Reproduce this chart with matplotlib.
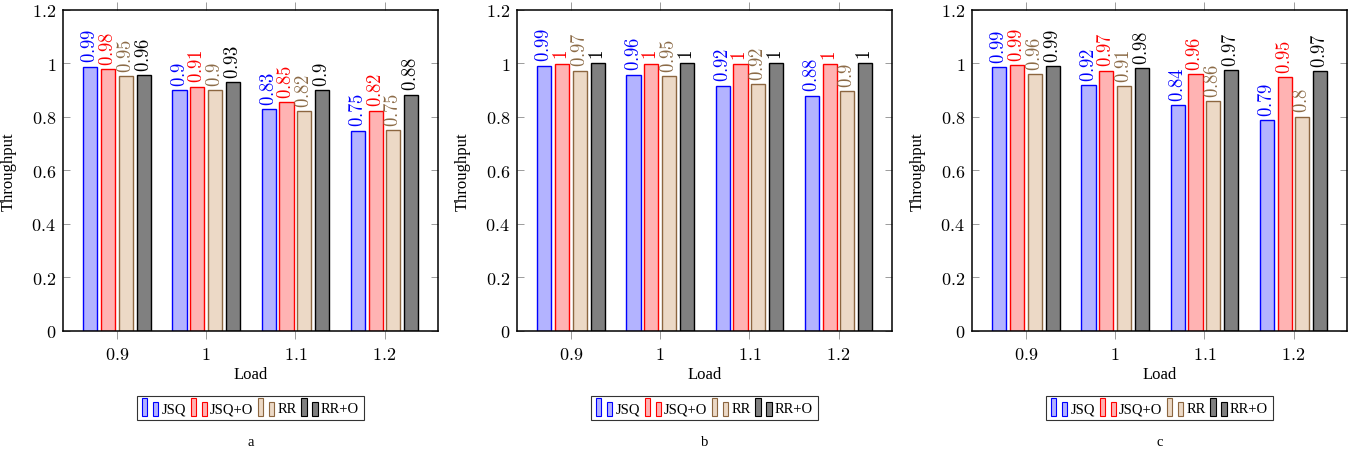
import matplotlib
matplotlib.use('Agg')
import matplotlib.pyplot as plt
import numpy as np
from matplotlib.patches import Rectangle
from matplotlib.legend_handler import HandlerBase
from matplotlib.ticker import FuncFormatter, MultipleLocator

plt.rcParams['font.family'] = ['Liberation Serif', 'DejaVu Serif']
plt.rcParams['mathtext.fontset'] = 'cm'

loads = ['0.9', '1', '1.1', '1.2']
series = ['JSQ', 'JSQ+O', 'RR', 'RR+O']
panel_names = ['a', 'b', 'c']

# throughput per panel, one list per series (JSQ, JSQ+O, RR, RR+O)
a_jsq = [0.987, 0.90, 0.828, 0.748]
a_jsq_o = [0.978, 0.912, 0.853, 0.822]
a_rr = [0.951, 0.898, 0.82, 0.751]
a_rr_o = [0.956, 0.928, 0.898, 0.882]

b_jsq = [0.99, 0.957, 0.916, 0.878]
b_jsq_o = [0.998, 0.998, 0.997, 0.996]
b_rr = [0.972, 0.951, 0.921, 0.895]
b_rr_o = [0.999, 0.999, 0.999, 0.999]

c_jsq = [0.986, 0.917, 0.842, 0.788]
c_jsq_o = [0.992, 0.972, 0.958, 0.947]
c_rr = [0.96, 0.913, 0.858, 0.80]
c_rr_o = [0.988, 0.981, 0.973, 0.97]

panels = [
    [a_jsq, a_jsq_o, a_rr, a_rr_o],
    [b_jsq, b_jsq_o, b_rr, b_rr_o],
    [c_jsq, c_jsq_o, c_rr, c_rr_o],
]

fills = [(0.7, 0.7, 1.0), (1.0, 0.7, 0.7), (0.925, 0.85, 0.775), (0.5, 0.5, 0.5)]
edges = ['blue', 'red', (0.55, 0.40, 0.25), 'black']
text_cols = ['blue', 'red', (0.55, 0.42, 0.28), 'black']


class TwoBarHandler(HandlerBase):
    # pgfplots style legend image: two small bars
    def create_artists(self, legend, orig_handle, xdescent, ydescent,
                       width, height, fontsize, trans):
        fc = orig_handle.get_facecolor()
        ec = orig_handle.get_edgecolor()
        w = width * 0.3
        y0 = -ydescent - 0.2 * height
        r1 = Rectangle((-xdescent, y0), w, height * 1.45,
                       facecolor=fc, edgecolor=ec, lw=0.8, transform=trans)
        r2 = Rectangle((-xdescent + width * 0.64, y0), w, height * 1.1,
                       facecolor=fc, edgecolor=ec, lw=0.8, transform=trans)
        return [r1, r2]


def num_fmt(v, pos=None):
    return '$%g$' % round(v, 2)


W, H = 1352, 452
fig = plt.figure(figsize=(W / 100, H / 100), dpi=100)
lefts = [63, 517, 972]
ax_w = 375
ax_top, ax_bot = 10.5, 332

x = np.arange(len(loads))
step = 0.2
bw = 0.158

for p, data in enumerate(panels):
    ax = fig.add_axes([lefts[p] / W, (H - ax_bot) / H, ax_w / W, (ax_bot - ax_top) / H])
    handles = []
    for j, vals in enumerate(data):
        pos = x + (j - 1.5) * step
        bars = ax.bar(pos, vals, width=bw, color=fills[j], edgecolor=edges[j],
                      linewidth=1.0, label=series[j], zorder=2)
        handles.append(bars[0])
        for xi, v in zip(pos, vals):
            ax.text(xi, v + 0.016, num_fmt(v), rotation=90, ha='center', va='bottom',
                    color=text_cols[j], fontsize=13.5)
    ax.set_xlim(-0.607, 3.6)
    ax.set_ylim(0, 1.2)
    ax.set_xticks(x)
    ax.set_xticklabels(['$%s$' % l for l in loads])
    ax.yaxis.set_major_locator(MultipleLocator(0.2))
    ax.yaxis.set_major_formatter(FuncFormatter(num_fmt))
    ax.tick_params(axis='y', direction='in', left=True, right=True, length=5,
                   width=0.6, color='0.55', labelsize=13, pad=5)
    ax.tick_params(axis='x', direction='out', bottom=True, top=True, length=6,
                   width=0.6, color='0.55', labelsize=13, pad=5)
    for s in ax.spines.values():
        s.set_linewidth(1.1)
    ax.set_ylabel('Throughput', fontsize=12)
    ax.yaxis.set_label_coords(-46 / ax_w, 0.5)
    ax.set_xlabel('Load', fontsize=12, va='center')
    ax.xaxis.set_label_coords(0.5, -43 / (ax_bot - ax_top))
    leg = ax.legend(handles, series, loc='upper center',
                    bbox_to_anchor=(0.5, -65 / (ax_bot - ax_top)), ncol=4,
                    handler_map={h: TwoBarHandler() for h in handles},
                    fontsize=10.5, frameon=True, fancybox=False, edgecolor='black',
                    handlelength=1.2, handleheight=0.9, handletextpad=0.15,
                    columnspacing=0.3, borderpad=0.35, borderaxespad=0)
    leg.get_frame().set_linewidth(0.8)
    fig.text((lefts[p] + ax_w / 2) / W, (H - 443) / H, panel_names[p],
             ha='center', va='center', fontsize=10.5)

fig.savefig('out.png', dpi=100)
